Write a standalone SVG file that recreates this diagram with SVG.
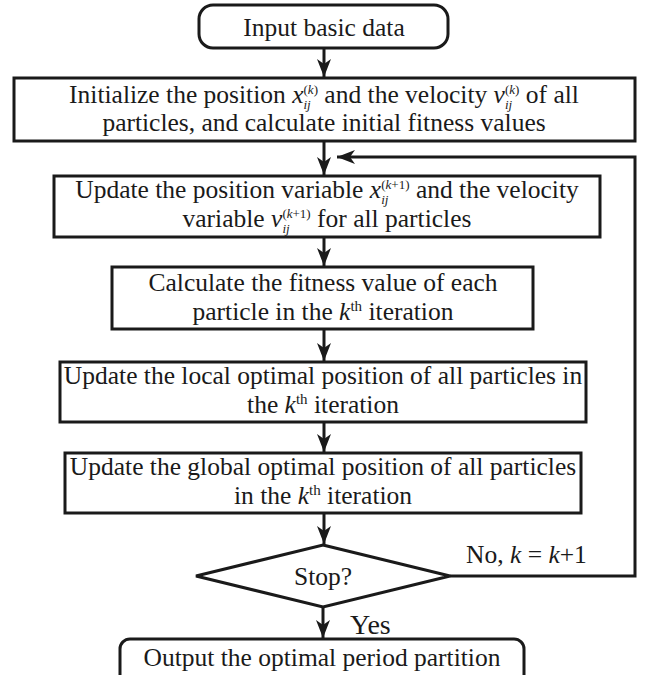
<svg xmlns="http://www.w3.org/2000/svg" width="647" height="675" viewBox="0 0 647 675">
<style>
  .box{fill:#fff;stroke:#1a1a1a;stroke-width:3}
  .t{font-family:"Liberation Serif","Times New Roman",serif;font-size:25.5px;fill:#1a1a1a}
  .c{text-anchor:middle}
  .i{font-style:italic}
  .s{font-size:13px}
  .th{font-size:15px}
  .conn{fill:none;stroke:#1a1a1a;stroke-width:3}
</style>
<defs>
  <marker id="ah" markerUnits="userSpaceOnUse" markerWidth="20" markerHeight="14" refX="18" refY="7" orient="auto">
    <path d="M0,0 L18,7 L0,14 L5,7 Z" fill="#1a1a1a"/>
  </marker>
</defs>
<rect width="647" height="675" fill="#fff"/>
<g id="connectors">
  <line class="conn" x1="324" y1="48" x2="324" y2="77" marker-end="url(#ah)"/>
  <line class="conn" x1="324" y1="141" x2="324" y2="175" marker-end="url(#ah)"/>
  <line class="conn" x1="324" y1="237" x2="324" y2="266" marker-end="url(#ah)"/>
  <line class="conn" x1="324" y1="329" x2="324" y2="361" marker-end="url(#ah)"/>
  <line class="conn" x1="324" y1="422" x2="324" y2="452" marker-end="url(#ah)"/>
  <line class="conn" x1="324" y1="513" x2="324" y2="544" marker-end="url(#ah)"/>
  <line class="conn" x1="323" y1="607" x2="323" y2="638" marker-end="url(#ah)"/>
  <polyline class="conn" points="450,576 635,576 635,157 337,157" marker-end="url(#ah)"/>
  <text class="t" x="466" y="563">No, <tspan class="i">k</tspan> = <tspan class="i">k</tspan>+1</text>
  <text class="t" x="350" y="634" style="font-size:28px">Yes</text>
</g>
<g id="start">
  <rect class="box" x="199" y="5" width="249" height="43" rx="14"/>
  <text class="t c" x="324" y="36">Input basic data</text>
</g>
<g id="init">
  <rect class="box" x="14" y="78" width="621" height="63"/>
  <text class="t c" x="324" y="103">Initialize the position <tspan class="i">x</tspan><tspan class="s i" dy="6">ij</tspan><tspan class="s" dx="-7.2" dy="-15">(<tspan class="i">k</tspan>)</tspan><tspan dy="9">  and the velocity </tspan><tspan class="i">v</tspan><tspan class="s i" dy="6">ij</tspan><tspan class="s" dx="-7.2" dy="-15">(<tspan class="i">k</tspan>)</tspan><tspan dy="9">  of all</tspan></text>
  <text class="t c" x="324" y="131">particles, and calculate initial fitness values</text>
</g>
<g id="update-pv">
  <rect class="box" x="54" y="176" width="546" height="61"/>
  <text class="t c" x="327" y="198">Update the position variable <tspan class="i">x</tspan><tspan class="s i" dy="6">ij</tspan><tspan class="s" dx="-7.2" dy="-15">(<tspan class="i">k</tspan>+1)</tspan><tspan dy="9">  and the velocity</tspan></text>
  <text class="t c" x="327" y="227">variable <tspan class="i">v</tspan><tspan class="s i" dy="6">ij</tspan><tspan class="s" dx="-7.2" dy="-15">(<tspan class="i">k</tspan>+1)</tspan><tspan dy="9">  for all particles</tspan></text>
</g>
<g id="fitness">
  <rect class="box" x="112" y="267" width="421" height="62"/>
  <text class="t c" x="323" y="291">Calculate the fitness value of each</text>
  <text class="t c" x="323" y="320">particle in the <tspan class="i">k</tspan><tspan class="th" dy="-9">th</tspan><tspan dy="9"> iteration</tspan></text>
</g>
<g id="local">
  <rect class="box" x="60" y="362" width="526" height="60"/>
  <text class="t c" x="323" y="384">Update the local optimal position of all particles in</text>
  <text class="t c" x="323" y="413">the <tspan class="i">k</tspan><tspan class="th" dy="-9">th</tspan><tspan dy="9"> iteration</tspan></text>
</g>
<g id="global">
  <rect class="box" x="65" y="453" width="516" height="60"/>
  <text class="t c" x="323" y="475">Update the global optimal position of all particles</text>
  <text class="t c" x="323" y="504">in the <tspan class="i">k</tspan><tspan class="th" dy="-9">th</tspan><tspan dy="9"> iteration</tspan></text>
</g>
<g id="stop">
  <polygon class="box" points="323,545 450,576 323,607 196,576"/>
  <text class="t c" x="323" y="585">Stop?</text>
</g>
<g id="output">
  <rect class="box" x="120" y="639" width="404" height="52" rx="10"/>
  <text class="t c" x="322" y="666">Output the optimal period partition</text>
</g>
</svg>
